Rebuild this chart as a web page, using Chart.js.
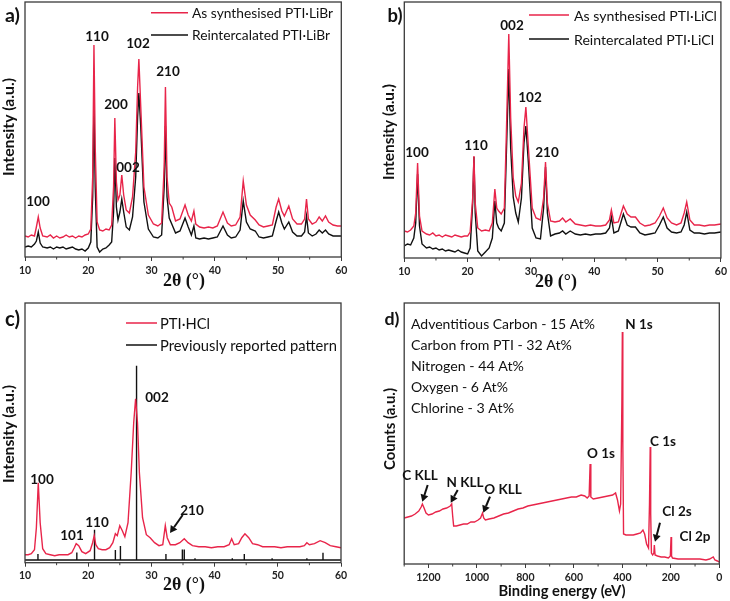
<!DOCTYPE html>
<html>
<head>
<meta charset="utf-8">
<script src="https://cdn.jsdelivr.net/npm/chart.js@4.4.1/dist/chart.umd.min.js"></script>
<style>
body { margin: 0; background: #fff; width: 730px; height: 601px; position: relative; overflow: hidden; }
canvas { position: absolute; }
</style>
</head>
<body>
<canvas id="pa" width="365" height="300" style="left:0;top:0"></canvas>
<canvas id="pb" width="365" height="300" style="left:365px;top:0"></canvas>
<canvas id="pc" width="365" height="301" style="left:0;top:300px"></canvas>
<canvas id="pd" width="365" height="301" style="left:365px;top:300px"></canvas>
<script>
// a) PTI·LiBr
var libr2theta = [10,10.5,11,11.5,11.8,12.1,12.4,12.8,
  13.5,14,14.5,15,15.5,16,16.5,17,17.5,18,18.5,19,19.5,20,
  20.4,20.7,20.9,21.1,21.4,21.8,22.3,22.8,23.3,23.7,
  24.0,24.2,24.45,24.7,25.0,25.3,25.6,26.0,26.5,27.0,
  27.5,27.8,28.0,28.3,28.8,29.5,30.3,31.0,31.6,32.0,
  32.2,32.45,32.8,33.2,33.8,34.5,35.3,35.8,36.3,36.7,
  37.0,37.6,38.3,39,39.7,40.4,41.3,42.0,42.6,43.3,
  44.0,44.5,45.0,45.6,46.4,47.0,47.7,48.4,49.1,49.7,
  50.1,50.6,51.0,51.7,52.3,53.0,53.7,54.2,54.5,54.8,
  55.4,56.0,56.5,57.0,57.5,58.0,58.7,59.4,60];
var librAs = [21,20,22,21,30,40,29,21,
  20,22,19,21,19,20,22,20,21,19,21,20,22,23,
  28,80,212,110,35,27,26,28,27,32,
  70,139,75,57,62,82,62,47,44,60,
  105,170,198,150,70,42,33,31,34,90,
  170,80,54,50,36,38,52,42,36,46,
  33,30,29,30,29,31,45,34,31,32,
  40,76,52,42,37,32,30,31,32,50,
  58,46,41,51,38,33,33,38,58,38,
  33,35,40,36,41,35,32,31,31];
var librRe = [10,11,10,13,16,25,14,10,
  9,10,8,10,9,10,8,9,10,8,7,8,6,9,
  15,60,153,70,10,5,8,9,12,15,
  45,99,50,37,45,58,45,30,27,40,
  80,140,164,130,55,28,20,19,22,70,
  131,60,39,33,24,26,39,30,22,31,
  19,18,19,18,19,20,31,22,19,20,
  27,56,35,28,26,20,19,20,21,36,
  45,34,28,35,25,21,21,25,41,24,
  21,23,27,24,27,23,21,21,21];

// b) PTI·LiCl
var licl2theta = [10,10.5,11,11.5,11.8,12.1,12.4,12.8,
  13.5,14,14.5,15,15.5,16,16.5,17,17.5,18,18.5,19,19.5,20,
  20.4,20.8,21.0,21.2,21.6,22.2,22.8,23.4,23.9,24.3,
  24.6,24.9,25.3,25.8,26.1,26.5,26.8,27.2,27.6,28.0,
  28.5,28.9,29.2,29.6,30.2,30.8,31.5,32.0,32.3,32.6,
  33.1,33.8,34.5,35.0,35.5,36.2,37.0,37.8,38.6,39.4,
  40.2,41.0,41.8,42.4,42.7,43.1,43.8,44.6,45.2,45.8,
  46.5,47.2,48.0,48.8,49.6,50.3,50.9,51.5,52.2,53.0,
  53.7,54.2,54.6,55.1,55.8,56.6,57.4,58.2,59.0,60];
var liclAs = [27,26,28,32,45,95,42,27,
  24,23,25,22,23,21,23,22,21,23,22,21,22,22,
  26,60,102,55,30,27,28,27,35,69,
  50,47,44,50,120,224,140,80,62,56,
  75,130,151,110,50,40,38,60,96,55,
  37,36,37,40,36,39,34,33,32,33,
  32,32,33,38,48,35,36,52,44,41,
  41,35,32,33,35,42,50,40,35,33,
  35,45,56,38,33,33,32,33,33,34];
var liclRe = [12,14,13,20,35,84,32,14,
  10,11,9,10,8,9,7,8,7,6,8,6,5,4,
  10,55,101,45,7,2,6,10,20,57,
  35,30,27,35,100,189,110,61,45,36,
  60,115,132,95,30,20,19,50,91,45,
  22,24,25,27,24,27,24,23,24,23,
  24,24,25,30,41,25,27,44,33,31,
  31,25,23,24,25,33,41,30,26,25,
  26,33,46,28,25,25,24,25,25,26];

// c) PTI·HCl and reported stick pattern
var hcl2theta = [10,10.5,11,11.5,11.8,12.1,12.4,12.8,13.3,14,
  14.7,15.4,16.1,16.8,17.4,17.8,18.1,18.5,19.0,19.6,
  20.3,20.7,20.95,21.2,21.6,22.2,22.8,23.4,23.9,24.3,
  24.6,25.0,25.4,25.8,26.3,26.8,27.2,27.5,27.8,28.1,
  28.6,29.2,29.8,30.5,31.2,31.8,32.2,32.5,33.0,33.8,
  34.5,35.2,35.8,36.5,37.5,38.5,39.5,40.5,41.5,42.3,
  42.7,43.1,43.8,44.3,44.8,45.4,46.0,46.8,47.6,48.5,
  49.5,50.5,51.5,52.5,53.5,54.2,54.6,55.0,55.8,56.7,
  57.5,58.3,59.2,60];
var hclInt = [8,8,9,13,35,80,40,14,9,8,
  7,8,8,8,10,15,19,17,11,9,
  12,20,27,18,14,13,13,15,20,29,
  27,37,32,26,40,90,140,164,140,90,
  45,28,25,20,17,18,37,25,18,18,
  20,24,20,17,16,16,15,16,16,18,
  24,18,19,25,29,25,19,18,16,16,
  16,15,16,16,16,17,20,18,19,22,
  20,17,16,15];
var ref2theta = [12.05,18.2,21.0,24.3,25.1,27.65,32.3,34.9,35.2,36.9,42.8,44.7,49.1,54.6,57.15];
var refInt = [8.7,10.3,33,12.7,16.7,197,8.7,13.3,13.3,4.5,4.5,8.7,4.5,4.5,10];
var refBase = 2.7;

// d) XPS survey
var bindingEnergy = [1300,1285,1270,1255,1240,1230,1225,1218,1210,1200,
  1185,1170,1155,1140,1125,1110,1104,1100,1096,1085,
  1070,1055,1040,1025,1010,995,985,977,972,965,
  950,930,910,890,870,850,830,810,790,770,
  750,730,710,690,670,650,630,610,590,570,
  555,545,537,533,530,520,500,480,460,440,
  428,420,412,407,402,400,398,395,385,370,
  355,340,325,315,308,300,292,288,285,283,
  280,275,270,268,265,255,240,225,210,202,
  199,197,193,170,140,110,80,55,40,25,
  18,8,0];
var counts = [46,47,48,50,53,57,60,56,51,49,
  50,52,53,55,56,58,60,48,38,38,
  39,40,40,42,42,44,46,51,46,44,
  45,46,48,50,51,53,55,56,58,59,
  60,61,62,63,64,65,66,67,67,69,
  68,66,68,100,67,65,66,67,68,69,
  71,64,53,60,160,232,120,30,29,29,
  29,30,31,34,30,20,16,60,117,50,
  11,9,11,19,9,8,7,7,6,8,
  27,8,6,5,5,5,5,4,5,7,
  4,3,2];

var RED = '#e8254a', BLACK = '#111111', FRAME = '#3a3a3a';

function pts(xs, ys) {
  return xs.map(function (x, i) { return { x: x, y: ys[i] }; });
}

function sticks(xs, ys, base, x0, x1) {
  var out = [{ x: x0, y: base }, { x: x1, y: base }, { x: x1, y: null }];
  xs.forEach(function (x, i) {
    out.push({ x: x, y: base }, { x: x, y: ys[i] }, { x: x, y: null });
  });
  return out;
}

function fitFont(ctx, txt, weight, family, w) {
  ctx.font = weight + ' 20px ' + family;
  return weight + ' ' + (20 * w / ctx.measureText(txt).width).toFixed(2) + 'px ' + family;
}

var deco = {
  id: 'deco',
  afterDraw: function (chart, args, o) {
    var ctx = chart.ctx, a = chart.chartArea, xs = chart.scales.x;
    ctx.save();
    ctx.strokeStyle = FRAME;
    ctx.lineWidth = 1.3;
    ctx.strokeRect(a.left, a.top, a.right - a.left, a.bottom - a.top);
    // short minor ticks
    ctx.lineWidth = 1;
    xs.ticks.forEach(function (t) {
      if (t.value % o.major === 0) return;
      var px = xs.getPixelForValue(t.value);
      ctx.beginPath(); ctx.moveTo(px, a.bottom); ctx.lineTo(px, a.bottom + 2.5); ctx.stroke();
    });
    // legend
    if (o.legend) {
      var L = o.legend, ds = chart.data.datasets, mw = 0;
      ctx.font = 'normal 20px Lato';
      ds.forEach(function (d) { mw = Math.max(mw, ctx.measureText(d.label).width); });
      var f = 'normal ' + (20 * L.w / mw).toFixed(2) + 'px Lato';
      ds.forEach(function (d, i) {
        ctx.strokeStyle = d.borderColor; ctx.lineWidth = 1.5;
        ctx.beginPath(); ctx.moveTo(L.x0, L.ys[i]); ctx.lineTo(L.x1, L.ys[i]); ctx.stroke();
        ctx.fillStyle = '#111'; ctx.font = f; ctx.textAlign = 'left'; ctx.textBaseline = 'middle';
        ctx.fillText(d.label, L.tx, L.ys[i] + 1);
      });
    }
    // texts
    (o.texts || []).forEach(function (t) {
      ctx.save();
      ctx.fillStyle = '#111';
      ctx.font = t.w ? fitFont(ctx, t.t, t.weight || 'bold', t.family || 'Lato', t.w)
                     : (t.weight || 'bold') + ' ' + (t.size || 13.5) + 'px ' + (t.family || 'Lato');
      ctx.textAlign = t.align || 'center';
      ctx.textBaseline = 'middle';
      ctx.translate(t.x, t.y);
      if (t.rot) ctx.rotate(t.rot);
      ctx.fillText(t.t, 0, 0);
      ctx.restore();
    });
    // arrows
    (o.arrows || []).forEach(function (r) {
      var ang = Math.atan2(r[3] - r[1], r[2] - r[0]), hl = 7, hw = 4;
      var bx = r[2] - hl * Math.cos(ang), by = r[3] - hl * Math.sin(ang);
      ctx.strokeStyle = '#111'; ctx.fillStyle = '#111'; ctx.lineWidth = 2;
      ctx.beginPath(); ctx.moveTo(r[0], r[1]); ctx.lineTo(bx, by); ctx.stroke();
      ctx.beginPath();
      ctx.moveTo(r[2], r[3]);
      ctx.lineTo(bx + hw * Math.sin(ang), by - hw * Math.cos(ang));
      ctx.lineTo(bx - hw * Math.sin(ang), by + hw * Math.cos(ang));
      ctx.closePath(); ctx.fill();
    });
    ctx.restore();
  }
};

function panel(id, datasets, o) {
  return new Chart(id, {
    type: 'line',
    data: { datasets: datasets },
    options: {
      responsive: false,
      animation: false,
      layout: { padding: { left: o.pad[0], top: o.pad[1], right: o.pad[2], bottom: 0 } },
      elements: { point: { radius: 0 }, line: { tension: 0, borderWidth: 1.4 } },
      plugins: { legend: { display: false }, tooltip: { enabled: false }, deco: o.deco },
      scales: {
        x: {
          type: 'linear', min: o.xmin, max: o.xmax, reverse: !!o.reverse,
          afterFit: function (s) { s.height = o.xh; },
          border: { display: false },
          grid: {
            drawOnChartArea: false, tickLength: 4, tickWidth: 1,
            tickColor: function (c) { return c.tick && c.tick.value % o.deco.major === 0 ? FRAME : 'rgba(0,0,0,0)'; }
          },
          ticks: {
            stepSize: o.step, autoSkip: false, maxRotation: 0, padding: 3, color: '#222',
            font: { family: 'Lato', weight: 'bold', size: 10.5 },
            callback: function (v) { return v % o.deco.major === 0 ? v : ''; }
          }
        },
        y: { display: false, min: 0, max: o.ymax }
      }
    },
    plugins: [deco]
  });
}

var INT = -Math.PI / 2;

panel('pa', [
  { label: 'As synthesised PTI·LiBr', data: pts(libr2theta, librAs), borderColor: RED },
  { label: 'Reintercalated PTI·LiBr', data: pts(libr2theta, librRe), borderColor: BLACK }
], {
  pad: [25, 2, 23.7], xh: 43, ymax: 255, xmin: 10, xmax: 60, step: 5,
  deco: {
    major: 10,
    legend: { x0: 151, x1: 188, tx: 192, ys: [12.7, 35], w: 141 },
    texts: [
      { t: 'a)', x: 12.5, y: 16, w: 15 },
      { t: 'Intensity (a.u.)', x: 9, y: 127, w: 98, rot: INT },
      { t: '2θ (°)', x: 184, y: 281, w: 42, family: '"Liberation Serif"' },
      { t: '100', x: 38, y: 202 },
      { t: '110', x: 97, y: 37 },
      { t: '200', x: 116, y: 105 },
      { t: '002', x: 128, y: 168 },
      { t: '102', x: 138, y: 44 },
      { t: '210', x: 168, y: 72 }
    ]
  }
});

panel('pb', [
  { label: 'As synthesised PTI·LiCl', data: pts(licl2theta, liclAs), borderColor: RED },
  { label: 'Reintercalated PTI·LiCl', data: pts(licl2theta, liclRe), borderColor: BLACK }
], {
  pad: [39.3, 2, 8.7], xh: 42, ymax: 256, xmin: 10, xmax: 60, step: 5,
  deco: {
    major: 10,
    legend: { x0: 164, x1: 204, tx: 209, ys: [15, 39], w: 143 },
    texts: [
      { t: 'b)', x: 30, y: 16, w: 15 },
      { t: 'Intensity (a.u.)', x: 24, y: 132, w: 96, rot: INT },
      { t: '2θ (°)', x: 191, y: 282, w: 42, family: '"Liberation Serif"' },
      { t: '100', x: 52, y: 153 },
      { t: '110', x: 111, y: 146 },
      { t: '002', x: 147, y: 26 },
      { t: '102', x: 165, y: 98 },
      { t: '210', x: 182, y: 153 }
    ]
  }
});

panel('pc', [
  { label: 'PTI·HCl', data: pts(hcl2theta, hclInt), borderColor: RED },
  { label: 'Previously reported pattern', data: sticks(ref2theta, refInt, refBase, 10, 60), borderColor: BLACK, spanGaps: false, borderWidth: 1.4 }
], {
  pad: [25, 3, 24], xh: 38.3, ymax: 259.7, xmin: 10, xmax: 60, step: 5,
  deco: {
    major: 10,
    legend: { x0: 126, x1: 157, tx: 160, ys: [23, 45], w: 177 },
    texts: [
      { t: 'c)', x: 12.5, y: 19, w: 15 },
      { t: 'Intensity (a.u.)', x: 9, y: 134, w: 98, rot: INT },
      { t: '2θ (°)', x: 184, y: 285, w: 42, family: '"Liberation Serif"' },
      { t: '100', x: 42, y: 180 },
      { t: '101', x: 72, y: 236 },
      { t: '110', x: 97, y: 223 },
      { t: '002', x: 157, y: 98 },
      { t: '210', x: 192, y: 211 }
    ],
    arrows: [[182.7, 215, 170, 233]]
  }
});

panel('pd', [
  { label: 'Survey', data: pts(bindingEnergy, counts), borderColor: RED }
], {
  pad: [39.2, 3, 10.7], xh: 37, ymax: 261, xmin: 0, xmax: 1300, step: 100, reverse: true,
  deco: {
    major: 200,
    texts: [
      { t: 'd)', x: 27, y: 19, w: 15 },
      { t: 'Counts (a.u.)', x: 25, y: 129, w: 82, rot: INT },
      { t: 'Binding energy (eV)', x: 197, y: 291, w: 127 },
      { t: 'Adventitious Carbon - 15 At%', x: 46, y: 24, w: 184, weight: 'normal', align: 'left' },
      { t: 'Carbon from PTI - 32 At%', x: 46, y: 45, w: 161, weight: 'normal', align: 'left' },
      { t: 'Nitrogen - 44 At%', x: 46, y: 66, w: 113, weight: 'normal', align: 'left' },
      { t: 'Oxygen - 6 At%', x: 46, y: 87, w: 97, weight: 'normal', align: 'left' },
      { t: 'Chlorine - 3 At%', x: 46, y: 108, w: 103, weight: 'normal', align: 'left' },
      { t: 'N 1s', x: 274, y: 25 },
      { t: 'C 1s', x: 298, y: 142 },
      { t: 'O 1s', x: 236, y: 154 },
      { t: 'C KLL', x: 55, y: 176 },
      { t: 'N KLL', x: 100, y: 183 },
      { t: 'O KLL', x: 138, y: 190 },
      { t: 'Cl 2s', x: 312, y: 212 },
      { t: 'Cl 2p', x: 330, y: 237 }
    ],
    arrows: [[62.7, 185, 57.3, 201.7], [92.7, 190, 85.7, 202.7], [125, 196.7, 118.3, 212.7], [295, 222.7, 290, 241.7]]
  }
});
</script>
</body>
</html>
